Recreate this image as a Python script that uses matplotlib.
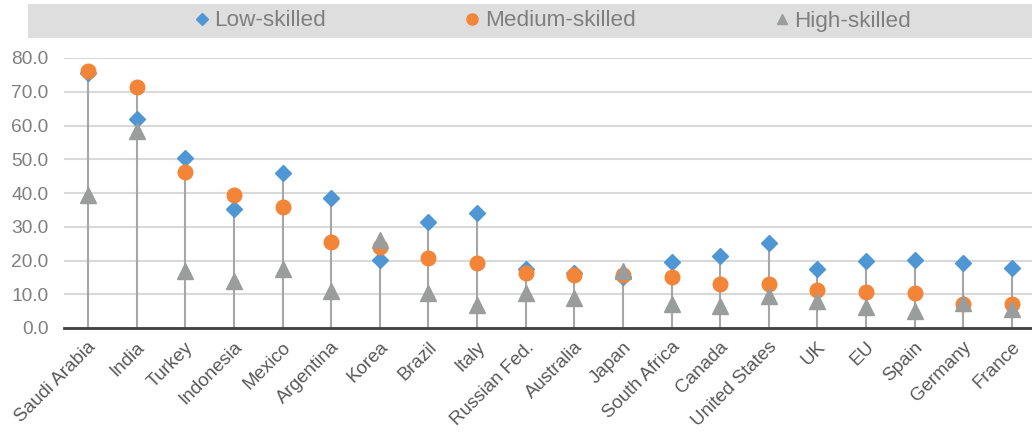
import matplotlib
matplotlib.use('Agg')
import matplotlib.pyplot as plt
import matplotlib.transforms as mtransforms
from matplotlib.lines import Line2D
from matplotlib.patches import Rectangle

countries = ['Saudi Arabia', 'India', 'Turkey', 'Indonesia', 'Mexico', 'Argentina',
             'Korea', 'Brazil', 'Italy', 'Russian Fed.', 'Australia', 'Japan',
             'South Africa', 'Canada', 'United States', 'UK', 'EU', 'Spain',
             'Germany', 'France']
low_skilled = [75.5, 62.0, 50.5, 35.3, 46.0, 38.5, 20.2, 31.3, 34.0, 17.5,
               16.3, 15.2, 19.7, 21.4, 25.1, 17.4, 19.9, 20.1, 19.2, 17.8]
medium_skilled = [76.2, 71.3, 46.3, 39.3, 35.8, 25.5, 24.0, 20.7, 19.3, 16.3,
                  15.8, 15.8, 15.2, 12.9, 12.9, 11.3, 10.8, 10.3, 7.2, 7.2]
high_skilled = [39.3, 58.5, 17.0, 14.0, 17.5, 11.0, 26.0, 10.5, 6.8, 10.3,
                9.0, 17.0, 7.2, 6.4, 9.4, 8.0, 6.1, 4.9, 7.3, 5.5]
y_ticks = [0, 10, 20, 30, 40, 50, 60, 70, 80]

blue = '#4F97D4'
orange = '#F28538'
grey = '#9B9C9C'

plt.rcParams['font.family'] = ['Liberation Sans', 'DejaVu Sans']

fig = plt.figure(figsize=(10.32, 4.32), dpi=100)
ax = fig.add_axes([63.7 / 1032, 104 / 432, 972.6 / 1032, 270 / 432])

x = list(range(len(countries)))
tops = [max(a, b, c) for a, b, c in zip(low_skilled, medium_skilled, high_skilled)]

# drop lines from zero up to the highest of the three points
ax.vlines(x, 0, tops, color='#A6A6A6', linewidth=1.5, zorder=2)

ax.plot(x, low_skilled, linestyle='none', marker='D', ms=8, color=blue, zorder=3)
ax.plot(x, medium_skilled, linestyle='none', marker='o', ms=10.5, color=orange, zorder=4)
ax.plot(x, high_skilled, linestyle='none', marker='^', ms=11.5, color=grey, zorder=5)

ax.set_xlim(-0.5, len(countries) - 0.5)
ax.set_ylim(0, 80)
ax.set_yticks(y_ticks)
ax.set_yticklabels([f'{v:.1f}' for v in y_ticks])
ax.yaxis.grid(True, color='#D9D9D9', linewidth=1.5)
ax.set_axisbelow(True)

for side in ['top', 'right', 'left']:
    ax.spines[side].set_visible(False)
ax.spines['bottom'].set_color('#404040')
ax.spines['bottom'].set_linewidth(2)
ax.spines['bottom'].set_zorder(6)

ax.tick_params(axis='y', length=0, pad=11, labelsize=13.8, labelcolor='#7F7F7F')
ax.tick_params(axis='x', length=0, pad=12, labelsize=13.5, labelcolor='#595959')
ax.set_xticks(x)
ax.set_xticklabels(countries, rotation=45, ha='right', va='center', rotation_mode='anchor')
shift = mtransforms.ScaledTranslation(4 / 72, 0, fig.dpi_scale_trans)
for lbl in ax.get_xticklabels():
    lbl.set_transform(lbl.get_transform() + shift)

# legend band across the top
fig.patches.append(Rectangle((28 / 1032, 1 - 38 / 432), 1 - 28 / 1032, 34 / 432,
                             transform=fig.transFigure, facecolor='#DEDEDE',
                             edgecolor='none', zorder=0))
handles = [
    Line2D([], [], linestyle='none', marker='D', ms=6, color=blue, label='Low-skilled'),
    Line2D([], [], linestyle='none', marker='o', ms=8, color=orange, label='Medium-skilled'),
    Line2D([], [], linestyle='none', marker='^', ms=7, color=grey, label='High-skilled'),
]
leg = fig.legend(handles=handles, loc='center', bbox_to_anchor=(553 / 1032, 1 - 21 / 432),
                 ncol=3, frameon=False, fontsize=16.2, handlelength=0.6,
                 handletextpad=0.25, columnspacing=6.2, borderaxespad=0)
for t in leg.get_texts():
    t.set_color('#7F7F7F')

fig.savefig('out.png', dpi=100)
